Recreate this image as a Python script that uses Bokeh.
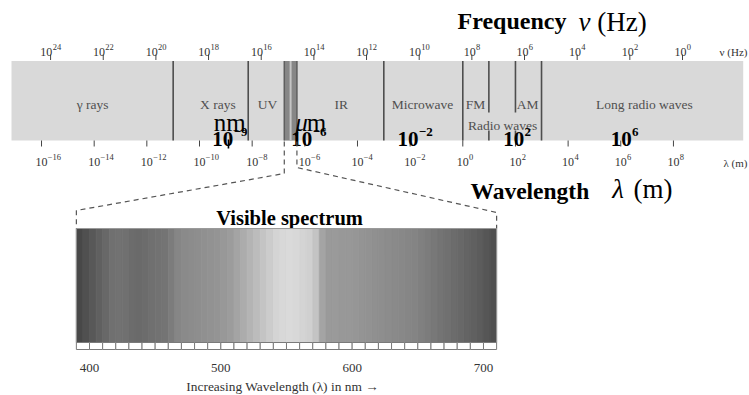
from bokeh.plotting import figure
from bokeh.models import Range1d, ColumnDataSource
from bokeh.embed import file_html
from bokeh.resources import INLINE
from bokeh.core.properties import value

# ---------------- data ----------------
freq_exponents = [24, 22, 20, 18, 16, 14, 12, 10, 8, 6, 4, 2, 0]          # log10(nu / Hz)
wave_exponents = [-16, -14, -12, -10, -8, -6, -4, -2, 0, 2, 4, 6, 8]      # log10(lambda / m)

band_names = ["γ rays", "X rays", "UV", "IR", "Microwave", "FM", "AM", "Long radio waves"]
band_label_logwl = [-14.06, -9.30, -7.42, -4.62, -1.53, 0.48, 2.46, 6.90]
band_edges_logwl = [-11.0, -8.15, -3.0, 0.0, 2.99]      # full-height separators
split_edges_logwl = [0.99, 2.0]                          # separators interrupted by "Radio waves"
strip_logwl = [-17.14, 10.65]
visible_logwl = [-6.78, -6.30]
radio_label_logwl = 1.51

marker_exponents = [-9, -6, -2, 2, 6]
marker_logwl = [-8.85, -5.85, -1.82, 2.06, 6.14]
nm_marker_logwl = -8.9

vis_tick_nm = [400, 500, 600, 700]
ruler_nm = list(range(390, 710, 10))        # 10 nm ruler boxes
spec_nm = list(range(390, 710, 5))          # 5 nm sampled grey levels
spec_gray = [0x48, 0x50, 0x58, 0x60, 0x68, 0x70, 0x72, 0x70, 0x6c, 0x6a,
             0x6c, 0x70, 0x72, 0x74, 0x7c, 0x86, 0x8a, 0x8c, 0x8e, 0x90,
             0x92, 0x94, 0x98, 0x9c, 0xa4, 0xac, 0xb4, 0xbc, 0xc4, 0xcc,
             0xd4, 0xd8, 0xda, 0xd8, 0xd4, 0xd0, 0xc4, 0xa4, 0x9a, 0x9a,
             0x98, 0x98, 0x96, 0x94, 0x92, 0x90, 0x8e, 0x8c, 0x8a, 0x88,
             0x86, 0x84, 0x80, 0x7c, 0x78, 0x74, 0x70, 0x6c, 0x68, 0x64,
             0x60, 0x5c, 0x56, 0x50]
spec_lo_nm, spec_hi_nm = 390, 710

# ---------------- layout constants ----------------
W, H = 749, 395
PX_PER_DEC = 26.33
WL1_PX = 462.3      # page x of lambda = 1 m
NU1_PX = 682.0      # page x of nu = 1 Hz
NM400_PX = 89.0
PX_PER_NM = 1.3133

SERIF = value("Liberation Serif")


def exp_str(e):
    return str(e).replace("-", "−")


def exp_width(e, size):
    s = exp_str(e)
    return size * sum(0.564 if ch == "−" else 0.5 for ch in s)


def nm_to_logwl(nm):
    px = NM400_PX + (nm - 400) * PX_PER_NM
    return (px - WL1_PX) / PX_PER_DEC


p = figure(width=W, height=H, output_backend="svg", toolbar_location=None,
           x_range=Range1d((0 - WL1_PX) / PX_PER_DEC, (W - WL1_PX) / PX_PER_DEC),
           y_range=Range1d(H, 0), min_border=0)
p.extra_x_ranges = {
    "freq": Range1d((NU1_PX - 0) / PX_PER_DEC, (NU1_PX - W) / PX_PER_DEC),
    "nm": Range1d(400 + (0 - NM400_PX) / PX_PER_NM, 400 + (W - NM400_PX) / PX_PER_NM),
}
p.axis.visible = False
p.grid.visible = False
p.outline_line_color = None
p.background_fill_color = "white"
p.border_fill_color = "white"


def power_labels(xs, exps, base_y, base_size, exp_size, raise_px, align, color, bold,
                 x_range_name="default"):
    """Draw '10' with a raised exponent at each position."""
    base_off, exp_off = [], []
    for e in exps:
        wb = base_size * 1.0
        we = exp_width(e, exp_size)
        if align == "center":
            b = -(wb + we) / 2
        else:  # "10" centred on the tick
            b = -wb / 2
        base_off.append(b)
        exp_off.append(b + wb + 0.3)
    style = "bold" if bold else "normal"
    n = len(xs)
    src = ColumnDataSource(dict(x=xs, yb=[base_y] * n, ye=[base_y - raise_px] * n,
                                tb=["10"] * n, te=[exp_str(e) for e in exps],
                                ob=base_off, oe=exp_off))
    p.text(x="x", y="yb", text="tb", source=src, x_range_name=x_range_name, x_offset="ob",
           text_font=SERIF, text_font_size=f"{base_size}px", text_font_style=style,
           text_color=color, text_align="left", text_baseline="alphabetic")
    p.text(x="x", y="ye", text="te", source=src, x_range_name=x_range_name, x_offset="oe",
           text_font=SERIF, text_font_size=f"{exp_size}px", text_font_style=style,
           text_color=color, text_align="left", text_baseline="alphabetic")


# ---- main strip ----
p.quad(left=[strip_logwl[0]], right=[strip_logwl[1]], top=[60.5], bottom=[140],
       fill_color="#d9d9d9", line_color=None)
p.quad(left=[visible_logwl[0]], right=[visible_logwl[1]], top=[60.5], bottom=[140],
       fill_color="#868686", line_color=None)
p.segment(x0=visible_logwl, y0=[60.5] * 2, x1=visible_logwl, y1=[140] * 2,
          line_color="#5e5e5e", line_width=1.5)
vis_mid = [(visible_logwl[0] + visible_logwl[1]) / 2]
p.segment(x0=vis_mid, y0=[60.5], x1=vis_mid, y1=[140], line_color="#c4c4c4", line_width=2)

p.segment(x0=band_edges_logwl, y0=[60.5] * len(band_edges_logwl),
          x1=band_edges_logwl, y1=[140] * len(band_edges_logwl),
          line_color="#4e4e4e", line_width=1.6)
p.segment(x0=split_edges_logwl * 2, y0=[60.5] * 2 + [130] * 2,
          x1=split_edges_logwl * 2, y1=[112] * 2 + [140] * 2,
          line_color="#4e4e4e", line_width=1.6)

band_src = ColumnDataSource(dict(x=band_label_logwl, y=[104] * len(band_names), t=band_names))
p.text(x="x", y="y", text="t", source=band_src, text_font=SERIF, text_font_size="13.5px",
       text_color="#505050", text_align="center", text_baseline="alphabetic")
p.text(x=[radio_label_logwl], y=[125], text=["Radio waves"], text_font=SERIF,
       text_font_size="13.5px", text_color="#505050", text_align="center",
       text_baseline="alphabetic")

# ---- frequency ticks (top) ----
p.segment(x0=freq_exponents, y0=[54] * 13, x1=freq_exponents, y1=[59.5] * 13,
          x_range_name="freq", line_color="#444444", line_width=1)
power_labels(freq_exponents, freq_exponents, 51, 12, 8.5, 5, "center", "#333333", False, "freq")
p.text(x=[(NU1_PX - 747) / PX_PER_DEC], y=[51], text=["ν (Hz)"], x_range_name="freq",
       text_font=SERIF, text_font_size="11px", text_color="#333333", text_align="right",
       text_baseline="alphabetic")

# ---- wavelength ticks (bottom) ----
p.segment(x0=wave_exponents, y0=[140] * 13, x1=wave_exponents, y1=[146] * 13,
          line_color="#444444", line_width=1)
power_labels(wave_exponents, wave_exponents, 161, 12, 8.5, 5, "base", "#333333", False)
p.text(x=[(747 - WL1_PX) / PX_PER_DEC], y=[162], text=["λ (m)"], text_font=SERIF,
       text_font_size="11px", text_color="#333333", text_align="right",
       text_baseline="alphabetic")

# ---- titles ----
p.text(x=[-0.2], y=[20], text=["Frequency"], text_font=SERIF, text_font_size="24px",
       text_font_style="bold", text_color="black", text_align="left", text_baseline="alphabetic")
p.text(x=[4.39], y=[21], text=["ν"], text_font=SERIF, text_font_size="27px",
       text_font_style="italic", text_color="black", text_align="left", text_baseline="alphabetic")
p.text(x=[5.11], y=[21], text=["(Hz)"], text_font=SERIF, text_font_size="27px",
       text_color="black", text_align="left", text_baseline="alphabetic")
p.text(x=[0.29], y=[190], text=["Wavelength"], text_font=SERIF, text_font_size="23.5px",
       text_font_style="bold", text_color="black", text_align="left", text_baseline="alphabetic")
p.text(x=[5.68], y=[188], text=["λ"], text_font=SERIF, text_font_size="27px",
       text_font_style="italic", text_color="black", text_align="left", text_baseline="alphabetic")
p.text(x=[6.48], y=[188], text=["(m)"], text_font=SERIF, text_font_size="27px",
       text_color="black", text_align="left", text_baseline="alphabetic")

# ---- overlay markers ----
power_labels(marker_logwl, marker_exponents, 138, 21, 13, 7, "center", "black", True)
p.text(x=[marker_logwl[0]], y=[122], text=["nm"], text_font=SERIF, text_font_size="25px",
       text_color="black", text_align="center", text_baseline="alphabetic")
p.text(x=[marker_logwl[1]], y=[122], text=["μ"], text_font=SERIF, text_font_size="25px",
       text_font_style="italic", text_color="black", text_align="right", text_baseline="alphabetic",
       x_offset=-1)
p.text(x=[marker_logwl[1]], y=[122], text=["m"], text_font=SERIF, text_font_size="25px",
       text_color="black", text_align="left", text_baseline="alphabetic", x_offset=-2)
p.segment(x0=[nm_marker_logwl], y0=[139], x1=[nm_marker_logwl], y1=[148],
          line_color="black", line_width=1.6)

# ---- dashed connectors ----
lo_b, hi_b = nm_to_logwl(spec_lo_nm), nm_to_logwl(spec_hi_nm)
p.multi_line(xs=[[visible_logwl[0], visible_logwl[0], lo_b, lo_b],
                 [visible_logwl[1], visible_logwl[1], hi_b, hi_b]],
             ys=[[141, 173, 210, 228], [141, 167, 212, 228]],
             line_color="#555555", line_width=1.2, line_dash="5 4")

# ---- visible spectrum ----
p.text(x=[552.3], y=[217], text=["Visible spectrum"], x_range_name="nm", text_font=SERIF,
       text_font_size="20.5px", text_font_style="bold", text_color="black",
       text_align="center", text_baseline="alphabetic")
cols = ["#%02x%02x%02x" % (g, g, g) for g in spec_gray]
ssrc = ColumnDataSource(dict(l=spec_nm, r=[n + 5 for n in spec_nm], c=cols))
p.quad(left="l", right="r", top=228, bottom=342, source=ssrc, x_range_name="nm",
       fill_color="c", line_color="c", line_width=0.8)
p.quad(left=[spec_lo_nm], right=[spec_hi_nm], top=[228], bottom=[342], x_range_name="nm",
       fill_color=None, line_color="#9a9a9a", line_width=1)
p.quad(left=ruler_nm, right=[n + 10 for n in ruler_nm], top=[342] * len(ruler_nm),
       bottom=[349] * len(ruler_nm), x_range_name="nm",
       fill_color="white", line_color="#7a7a7a", line_width=1)
tsrc = ColumnDataSource(dict(x=vis_tick_nm, y=[367] * 4, t=[str(v) for v in vis_tick_nm]))
p.text(x="x", y="y", text="t", source=tsrc, x_range_name="nm", text_font=SERIF,
       text_font_size="13px", text_color="#333333", text_align="center", text_baseline="alphabetic")
p.text(x=[547], y=[386], text=["Increasing Wavelength (λ) in nm →"], x_range_name="nm",
       text_font=SERIF, text_font_size="13.4px", text_color="#333333",
       text_align="center", text_baseline="alphabetic")

open("out.html", "w").write(file_html(p, INLINE))
